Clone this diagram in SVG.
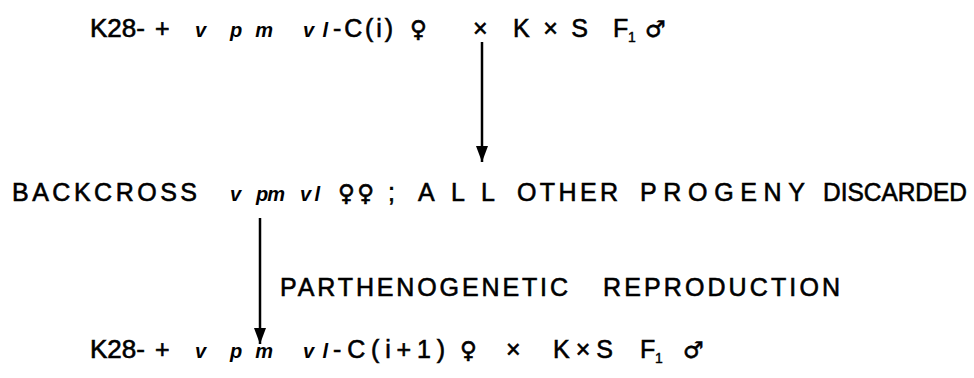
<svg xmlns="http://www.w3.org/2000/svg" width="974" height="378" viewBox="0 0 974 378">
<style>
.t{font-family:"Liberation Sans","DejaVu Sans",sans-serif;font-size:25px;fill:#000;stroke:#000;stroke-width:0.6;}
.g{font-family:"Liberation Sans","DejaVu Sans",sans-serif;font-size:20px;font-weight:bold;font-style:italic;fill:#000;}
.s{font-family:"DejaVu Sans",sans-serif;font-size:23px;fill:#000;stroke:#000;stroke-width:0.6;}
.sub{font-family:"Liberation Sans",sans-serif;font-size:14px;fill:#000;stroke:#000;stroke-width:0.4;}
.c{stroke:#000;stroke-width:2.5;fill:none;}
</style>
<defs>
<marker id="ah" viewBox="0 0 16 12" refX="16" refY="6" markerWidth="16" markerHeight="12" markerUnits="userSpaceOnUse" orient="auto">
<path d="M0,0 L16,6 L0,12 Z" fill="#000"/>
</marker>
</defs>
<rect width="974" height="378" fill="#fff"/>
<g id="cross1">
<text class="t" x="90" y="37" textLength="55" lengthAdjust="spacingAndGlyphs">K28-</text>
<text class="t" x="155" y="37">+</text>
<text class="g" x="195" y="37">v</text>
<text class="g" x="230" y="37" textLength="43" lengthAdjust="spacing">pm</text>
<text class="g" x="303" y="37" textLength="25" lengthAdjust="spacing">vl</text>
<text class="t" x="333" y="37" textLength="60" lengthAdjust="spacing">-C(i)</text>
<text class="s" x="410" y="37">♀</text>
<text class="t" x="473" y="37">×</text>
<text class="t" x="513" y="37" textLength="75" lengthAdjust="spacing">K×S</text>
<text class="t" x="613" y="37">F</text>
<text class="sub" x="628" y="42">1</text>
<text class="s" x="645" y="37">♂</text>
</g>
<g id="backcross">
<text class="t" x="12" y="201" textLength="185" lengthAdjust="spacing">BACKCROSS</text>
<text class="g" x="230" y="201">v</text>
<text class="g" x="256" y="201" textLength="29" lengthAdjust="spacing">pm</text>
<text class="g" x="300" y="201" textLength="20" lengthAdjust="spacing">vl</text>
<text class="s" x="338" y="201" textLength="36" lengthAdjust="spacing">♀♀</text>
<text class="t" x="388" y="201">;</text>
<text class="t" x="418" y="201" textLength="77" lengthAdjust="spacing">ALL</text>
<text class="t" x="517" y="201" textLength="101" lengthAdjust="spacing">OTHER</text>
<text class="t" x="640" y="201" textLength="165" lengthAdjust="spacing">PROGENY</text>
<text class="t" x="823" y="201" textLength="144" lengthAdjust="spacingAndGlyphs">DISCARDED</text>
</g>
<g id="parthenogenetic">
<text class="t" x="280" y="296" textLength="288" lengthAdjust="spacing">PARTHENOGENETIC</text>
<text class="t" x="603" y="296" textLength="237" lengthAdjust="spacing">REPRODUCTION</text>
</g>
<g id="cross2">
<text class="t" x="90" y="358" textLength="55" lengthAdjust="spacingAndGlyphs">K28-</text>
<text class="t" x="155" y="358">+</text>
<text class="g" x="195" y="358">v</text>
<text class="g" x="230" y="358" textLength="43" lengthAdjust="spacing">pm</text>
<text class="g" x="303" y="358" textLength="25" lengthAdjust="spacing">vl</text>
<text class="t" x="333" y="358" textLength="112" lengthAdjust="spacing">-C(i+1)</text>
<text class="s" x="460" y="358">♀</text>
<text class="t" x="506" y="358">×</text>
<text class="t" x="553" y="358" textLength="60" lengthAdjust="spacing">K×S</text>
<text class="t" x="640" y="358">F</text>
<text class="sub" x="655" y="363">1</text>
<text class="s" x="683" y="358">♂</text>
</g>
<g id="connectors">
<line class="c" x1="482" y1="42" x2="482" y2="162" marker-end="url(#ah)"/>
<line class="c" x1="260" y1="218" x2="260" y2="344" marker-end="url(#ah)"/>
</g>
</svg>
